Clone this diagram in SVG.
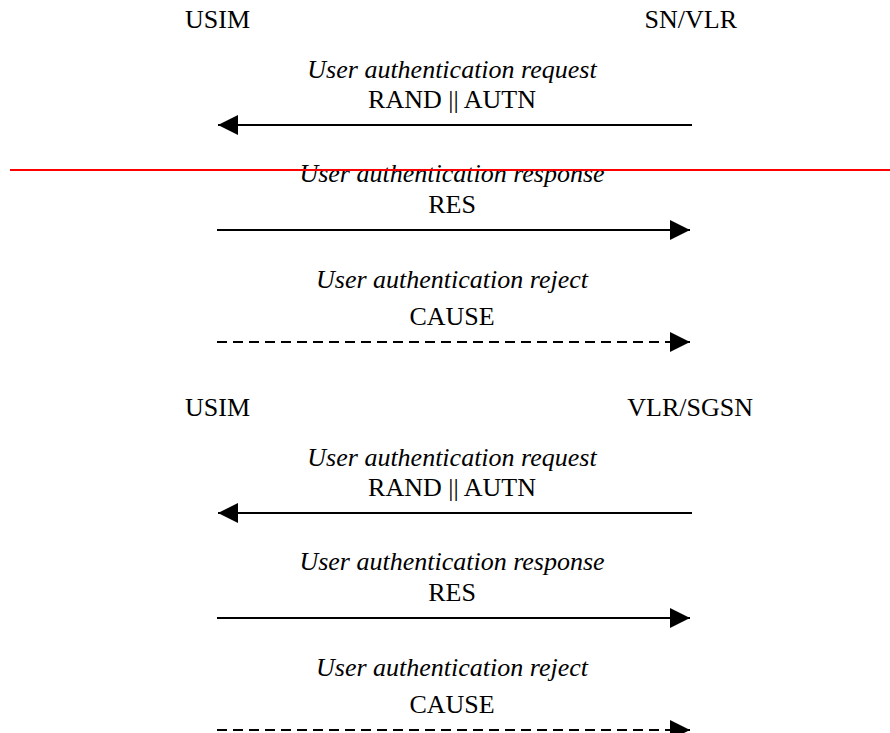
<svg xmlns="http://www.w3.org/2000/svg" width="890" height="733" viewBox="0 0 890 733">
<style>
  text { font-family: "Liberation Serif", "Times New Roman", serif; font-size: 26px; fill: #000; }
  .lbl { font-style: italic; text-anchor: middle; }
  .par { text-anchor: middle; }
  .conn { stroke: #000; stroke-width: 2; fill: none; }
  .dash { stroke-dasharray: 10 6; }
</style>
<defs>
  <marker id="ah" viewBox="0 0 20 20" markerWidth="20" markerHeight="20" markerUnits="userSpaceOnUse" refX="20" refY="10" orient="auto">
    <path d="M0,0 L20,10 L0,20 z" fill="#000"/>
  </marker>
</defs>
<rect width="890" height="733" fill="#fff"/>
<g id="usim1"><text x="185" y="28">USIM</text></g>
<g id="snvlr"><text x="737" y="28" text-anchor="end">SN/VLR</text></g>
<g id="usim2"><text x="185" y="416">USIM</text></g>
<g id="vlrsgsn"><text x="753" y="416" text-anchor="end">VLR/SGSN</text></g>
<g id="connectors">
  <line class="conn" x1="692" y1="125" x2="218" y2="125" marker-end="url(#ah)"/>
  <line class="conn" x1="217" y1="230" x2="690" y2="230" marker-end="url(#ah)"/>
  <line class="conn dash" x1="217" y1="342" x2="690" y2="342" marker-end="url(#ah)"/>
  <line class="conn" x1="692" y1="513" x2="218" y2="513" marker-end="url(#ah)"/>
  <line class="conn" x1="217" y1="618" x2="690" y2="618" marker-end="url(#ah)"/>
  <line class="conn dash" x1="217" y1="730" x2="690" y2="730" marker-end="url(#ah)"/>
</g>
<g id="labels">
  <text class="lbl" x="452" y="78">User authentication request</text>
  <text class="par" x="452" y="108">RAND || AUTN</text>
  <text class="lbl" x="452" y="182">User authentication response</text>
  <text class="par" x="452" y="213">RES</text>
  <text class="lbl" x="452" y="288">User authentication reject</text>
  <text class="par" x="452" y="325">CAUSE</text>
  <text class="lbl" x="452" y="466">User authentication request</text>
  <text class="par" x="452" y="496">RAND || AUTN</text>
  <text class="lbl" x="452" y="570">User authentication response</text>
  <text class="par" x="452" y="601">RES</text>
  <text class="lbl" x="452" y="676">User authentication reject</text>
  <text class="par" x="452" y="713">CAUSE</text>
</g>
<line x1="10" y1="170" x2="890" y2="170" stroke="#ff0000" stroke-width="2"/>
</svg>
